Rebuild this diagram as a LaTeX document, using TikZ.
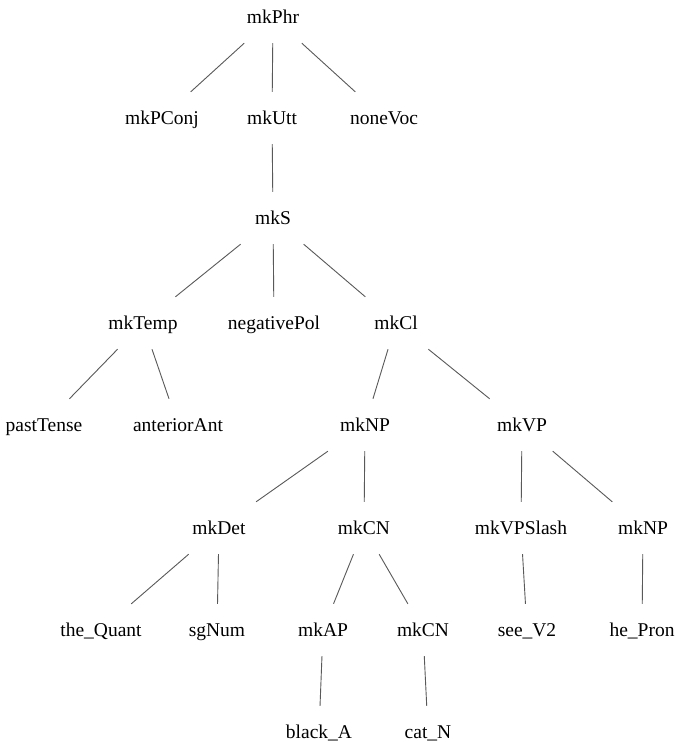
\documentclass[tikz,border=0pt]{standalone}
\usepackage{fontspec}
\setmainfont{Liberation Serif}
\begin{document}
\begin{tikzpicture}[x=1pt,y=-1pt,
  lbl/.style={shape=rectangle,inner sep=0pt,minimum width=300pt,minimum height=52pt,
    font=\fontsize{19.5}{22}\selectfont,text height=13.3pt,text depth=0pt,text=black},
  br/.style={draw=black!65,line width=0.9pt}]
\useasboundingbox[fill=white] (0,0) rectangle (676,742);
\node[lbl] (phr) at (273,17) {mkPhr};
\node[lbl] (pconj) at (162,118) {mkPConj};
\node[lbl] (utt) at (272,118) {mkUtt};
\node[lbl] (voc) at (384,118) {noneVoc};
\node[lbl] (s) at (273,218) {mkS};
\node[lbl] (temp) at (143,323) {mkTemp};
\node[lbl] (pol) at (274,323) {negativePol};
\node[lbl] (cl) at (396,323) {mkCl};
\node[lbl] (past) at (44,425) {pastTense};
\node[lbl] (ant) at (178,425) {anteriorAnt};
\node[lbl] (npa) at (365,425) {mkNP};
\node[lbl] (vp) at (522,425) {mkVP};
\node[lbl] (det) at (219,528) {mkDet};
\node[lbl] (cna) at (364,528) {mkCN};
\node[lbl] (vps) at (521,528) {mkVPSlash};
\node[lbl] (npb) at (643,528) {mkNP};
\node[lbl] (quant) at (101,630) {the\_Quant};
\node[lbl] (num) at (217,630) {sgNum};
\node[lbl] (ap) at (323,630) {mkAP};
\node[lbl] (cnb) at (423,630) {mkCN};
\node[lbl] (see) at (527,630) {see\_V2};
\node[lbl] (pron) at (642,630) {he\_Pron};
\node[lbl] (black) at (319,732) {black\_A};
\node[lbl] (cat) at (428,732) {cat\_N};
\draw[br] (phr) -- (pconj);
\draw[br] (phr) -- (utt);
\draw[br] (phr) -- (voc);
\draw[br] (utt) -- (s);
\draw[br] (s) -- (temp);
\draw[br] (s) -- (pol);
\draw[br] (s) -- (cl);
\draw[br] (temp) -- (past);
\draw[br] (temp) -- (ant);
\draw[br] (cl) -- (npa);
\draw[br] (cl) -- (vp);
\draw[br] (npa) -- (det);
\draw[br] (npa) -- (cna);
\draw[br] (vp) -- (vps);
\draw[br] (vp) -- (npb);
\draw[br] (det) -- (quant);
\draw[br] (det) -- (num);
\draw[br] (cna) -- (ap);
\draw[br] (cna) -- (cnb);
\draw[br] (vps) -- (see);
\draw[br] (npb) -- (pron);
\draw[br] (ap) -- (black);
\draw[br] (cnb) -- (cat);
\end{tikzpicture}
\end{document}
